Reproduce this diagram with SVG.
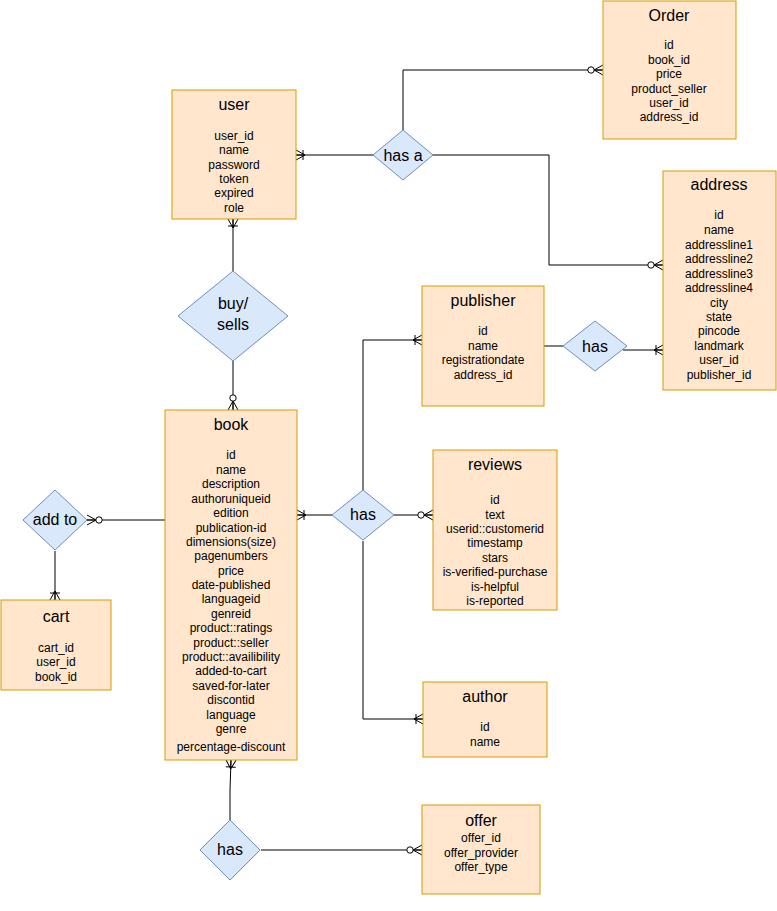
<svg xmlns="http://www.w3.org/2000/svg" width="777" height="911" viewBox="0 0 777 911">
<style>
.ent{fill:#ffe6cc;stroke:#d79b00;stroke-width:1}
.rel{fill:#dae8fc;stroke:#6c8ebf;stroke-width:1}
text{font-family:"Liberation Sans",Arial,sans-serif;fill:#000;text-anchor:middle}
.t{font-size:16px}
.f{font-size:12px}
.r{font-size:16px}
.c{fill:none;stroke:#000;stroke-width:1}
</style>
<defs>
<marker id="oneMany" markerUnits="userSpaceOnUse" viewBox="-14 -7 15 14" refX="0" refY="0" markerWidth="15" markerHeight="14" orient="auto" overflow="visible">
<path d="M-9,0 L0,-5 M-9,0 L0,5 M-9,0 L0,0 M-7,-5 L-7,5" fill="none" stroke="#000" stroke-width="1"/>
</marker>
<marker id="zeroMany" markerUnits="userSpaceOnUse" viewBox="-18 -7 19 14" refX="0" refY="0" markerWidth="19" markerHeight="14" orient="auto" overflow="visible">
<path d="M-9,0 L0,-5 M-9,0 L0,5 M-9,0 L0,0" fill="none" stroke="#000" stroke-width="1"/>
<circle cx="-12" cy="0" r="3.2" fill="#fff" stroke="#000" stroke-width="1"/>
</marker>
</defs>
<g id="connectors">
<path class="c" d="M373,155 L296,155" marker-end="url(#oneMany)"/>
<path class="c" d="M403,130 L403,70 L603,70" marker-end="url(#zeroMany)"/>
<path class="c" d="M433,155 L549,155 L549,265 L663,265" marker-end="url(#zeroMany)"/>
<path class="c" d="M233,271 L233,219" marker-end="url(#oneMany)"/>
<path class="c" d="M233,361 L233,410" marker-end="url(#zeroMany)"/>
<path class="c" d="M544,346 L563,346"/>
<path class="c" d="M623,350 L663,350" marker-end="url(#oneMany)"/>
<path class="c" d="M332,515 L297,515" marker-end="url(#oneMany)"/>
<path class="c" d="M394,515 L433,515" marker-end="url(#zeroMany)"/>
<path class="c" d="M363,491 L363,340 L422,340" marker-end="url(#oneMany)"/>
<path class="c" d="M363,541 L363,719 L423,719" marker-end="url(#oneMany)"/>
<path class="c" d="M165,520 L87,520" marker-end="url(#zeroMany)"/>
<path class="c" d="M55,551 L55,600" marker-end="url(#oneMany)"/>
<path class="c" d="M230,821 L230,790 L231,760" marker-end="url(#oneMany)"/>
<path class="c" d="M261,850 L422,850" marker-end="url(#zeroMany)"/>
</g>
<g id="user">
<rect class="ent" x="172" y="90" width="124" height="129"/>
<text class="t" x="234" y="110">user</text>
<text class="f" x="234" y="140">user_id</text>
<text class="f" x="234" y="154">name</text>
<text class="f" x="234" y="169">password</text>
<text class="f" x="234" y="183">token</text>
<text class="f" x="234" y="197">expired</text>
<text class="f" x="234" y="212">role</text>
</g>
<g id="order">
<rect class="ent" x="603" y="1" width="133" height="138"/>
<text class="t" x="669" y="21">Order</text>
<text class="f" x="669" y="49">id</text>
<text class="f" x="669" y="64">book_id</text>
<text class="f" x="669" y="78">price</text>
<text class="f" x="669" y="93">product_seller</text>
<text class="f" x="669" y="107">user_id</text>
<text class="f" x="669" y="121">address_id</text>
</g>
<g id="address">
<rect class="ent" x="663" y="171" width="113" height="219"/>
<text class="t" x="719" y="190">address</text>
<text class="f" x="719" y="219">id</text>
<text class="f" x="719" y="234">name</text>
<text class="f" x="719" y="249">addressline1</text>
<text class="f" x="719" y="263">addressline2</text>
<text class="f" x="719" y="278">addressline3</text>
<text class="f" x="719" y="292">addressline4</text>
<text class="f" x="719" y="307">city</text>
<text class="f" x="719" y="321">state</text>
<text class="f" x="719" y="335">pincode</text>
<text class="f" x="719" y="350">landmark</text>
<text class="f" x="719" y="364">user_id</text>
<text class="f" x="719" y="379">publisher_id</text>
</g>
<g id="publisher">
<rect class="ent" x="422" y="286" width="122" height="120"/>
<text class="t" x="483" y="306">publisher</text>
<text class="f" x="483" y="335">id</text>
<text class="f" x="483" y="350">name</text>
<text class="f" x="483" y="364">registrationdate</text>
<text class="f" x="483" y="379">address_id</text>
</g>
<g id="reviews">
<rect class="ent" x="433" y="450" width="124" height="160"/>
<text class="t" x="495" y="470">reviews</text>
<text class="f" x="495" y="504">id</text>
<text class="f" x="495" y="519">text</text>
<text class="f" x="495" y="533">userid::customerid</text>
<text class="f" x="495" y="547">timestamp</text>
<text class="f" x="495" y="562">stars</text>
<text class="f" x="495" y="576">is-verified-purchase</text>
<text class="f" x="495" y="591">is-helpful</text>
<text class="f" x="495" y="605">is-reported</text>
</g>
<g id="author">
<rect class="ent" x="423" y="682" width="124" height="75"/>
<text class="t" x="485" y="702">author</text>
<text class="f" x="485" y="731">id</text>
<text class="f" x="485" y="746">name</text>
</g>
<g id="offer">
<rect class="ent" x="422" y="805" width="118" height="89"/>
<text class="t" x="481" y="826">offer</text>
<text class="f" x="481" y="842">offer_id</text>
<text class="f" x="481" y="857">offer_provider</text>
<text class="f" x="481" y="871">offer_type</text>
</g>
<g id="book">
<rect class="ent" x="165" y="410" width="132" height="350"/>
<text class="t" x="231" y="430">book</text>
<text class="f" x="231" y="459">id</text>
<text class="f" x="231" y="474">name</text>
<text class="f" x="231" y="488">description</text>
<text class="f" x="231" y="503">authoruniqueid</text>
<text class="f" x="231" y="517">edition</text>
<text class="f" x="231" y="532">publication-id</text>
<text class="f" x="231" y="546">dimensions(size)</text>
<text class="f" x="231" y="560">pagenumbers</text>
<text class="f" x="231" y="575">price</text>
<text class="f" x="231" y="589">date-published</text>
<text class="f" x="231" y="603">languageid</text>
<text class="f" x="231" y="618">genreid</text>
<text class="f" x="231" y="632">product::ratings</text>
<text class="f" x="231" y="647">product::seller</text>
<text class="f" x="231" y="661">product::availibility</text>
<text class="f" x="231" y="675">added-to-cart</text>
<text class="f" x="231" y="690">saved-for-later</text>
<text class="f" x="231" y="704">discontid</text>
<text class="f" x="231" y="719">language</text>
<text class="f" x="231" y="733">genre</text>
<text class="f" x="231" y="751">percentage-discount</text>
</g>
<g id="cart">
<rect class="ent" x="1" y="600" width="110" height="90"/>
<text class="t" x="56" y="622">cart</text>
<text class="f" x="56" y="652">cart_id</text>
<text class="f" x="56" y="666">user_id</text>
<text class="f" x="56" y="681">book_id</text>
</g>
<g id="rel-has-a">
<path class="rel" d="M403,130 L433,155 L403,180 L373,155 Z"/>
<text class="r" x="403" y="161">has a</text>
</g>
<g id="rel-buy-sells">
<path class="rel" d="M233,271 L288,316 L233,361 L178,316 Z"/>
<text class="r" x="233" y="309">buy/</text>
<text class="r" x="233" y="330">sells</text>
</g>
<g id="rel-has-publisher">
<path class="rel" d="M595,321 L627,346 L595,371 L563,346 Z"/>
<text class="r" x="595" y="352">has</text>
</g>
<g id="rel-has-book">
<path class="rel" d="M363,490 L394,515 L363,540 L332,515 Z"/>
<text class="r" x="363" y="520">has</text>
</g>
<g id="rel-add-to">
<path class="rel" d="M55,490 L87,520 L55,550 L23,520 Z"/>
<text class="r" x="55" y="525">add to</text>
</g>
<g id="rel-has-offer">
<path class="rel" d="M230,820 L260,850 L230,880 L200,850 Z"/>
<text class="r" x="230" y="855">has</text>
</g>
</svg>
